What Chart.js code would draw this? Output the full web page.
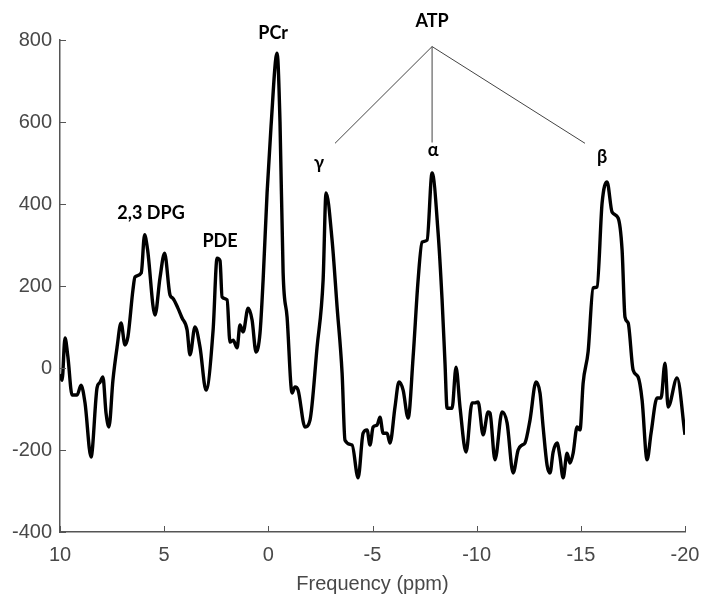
<!DOCTYPE html>
<html>
<head>
<meta charset="utf-8">
<script src="https://cdn.jsdelivr.net/npm/chart.js@4.4.1/dist/chart.umd.min.js"></script>
<style>
  html, body { margin: 0; padding: 0; background: #fff; }
  #wrap { width: 702px; height: 594px; }
</style>
</head>
<body>
<div id="wrap"><canvas id="spectrum" width="702" height="594"></canvas></div>
<script>
// 31P spectrum, chemical shift (ppm) vs signal
const ppm = [
  10.00, 9.90, 9.76, 9.62, 9.42, 9.18, 8.99, 8.80, 8.51, 8.22, 8.08, 7.94, 7.79, 7.65, 7.46, 7.26,
  7.07, 6.88, 6.74, 6.50, 6.40, 6.10, 5.94, 5.80, 5.44, 5.20, 4.98, 4.72, 4.58, 4.34, 4.14, 3.90,
  3.76, 3.52, 3.28, 2.99, 2.65, 2.46, 2.32, 2.22, 1.98, 1.84, 1.69, 1.50, 1.36, 1.21, 0.97, 0.78,
  0.59, 0.40, 0.25, 0.06, -0.13, -0.42, -0.56, -0.71, -0.90, -1.14, -1.28, -1.43, -1.76, -2.00,
  -2.34, -2.63, -2.77, -3.06, -3.30, -3.54, -3.68, -4.02, -4.31, -4.55, -4.74, -4.88, -5.03, -5.22,
  -5.36, -5.51, -5.70, -5.84, -6.08, -6.27, -6.47, -6.71, -6.95, -7.19, -7.38, -7.62, -7.86, -8.15,
  -8.34, -8.48, -8.58, -8.82, -9.01, -9.20, -9.49, -9.78, -9.92, -10.07, -10.31, -10.55, -10.64,
  -10.88, -11.22, -11.46, -11.75, -11.99, -12.18, -12.32, -12.56, -12.85, -13.04, -13.19, -13.38,
  -13.52, -13.67, -13.86, -14.00, -14.15, -14.34, -14.48, -14.63, -14.82, -14.96, -15.11, -15.35,
  -15.59, -15.78, -16.02, -16.26, -16.50, -16.79, -16.98, -17.12, -17.27, -17.51, -17.75, -17.94,
  -18.18, -18.37, -18.66, -18.85, -19.04, -19.19, -19.62, -20.00
];
const signal = [
  -15, -30, 73, 27, -66, -66, -42, -85, -217, -48, -35, -22, -110, -144, -30, 51,
  110, 56, 76, 190, 222, 232, 325, 290, 129, 220, 280, 178, 170, 146, 122, 93,
  32, 100, 51, -54, 93, 268, 262, 173, 166, 63, 68, 49, 105, 88, 146, 117,
  39, 85, 215, 427, 590, 768, 600, 232, 124, -61, -46, -54, -144, -127,
  51, 215, 427, 312, 149, -12, -176, -188, -268, -159, -151, -188, -144, -139,
  -120, -159, -159, -183, -95, -34, -54, -122, 27, 215, 307, 312, 476, 329,
  166, 12, -98, -98, 2, -95, -205, -85, -85, -83, -163, -107, -110,
  -224, -107, -134, -256, -200, -188, -183, -127, -34, -61, -144, -237,
  -256, -205, -183, -217, -268, -208, -232, -208, -144, -151, -37, 40,
  195, 198, 402, 454, 380, 366, 288, 124, 110, -5, -22, -78,
  -224, -159, -73, -73, 12, -95, -24, -163
];
const xTicks = [10, 5, 0, -5, -10, -15, -20];
const yTicks = [-400, -200, 0, 200, 400, 600, 800];

// peak labels (text, ppm, signal)
const peakNames = ['2,3 DPG', 'PDE', 'PCr', 'γ', 'α', 'β', 'ATP'];
const peakX = [5.63, 2.32, -0.23, -2.43, -7.91, -16.02, -7.86];
const peakY = [377, 309, 816, 499, 531, 514, 845];
// ATP bracket: apex then the three leg ends
const atpApex = [-7.86, 784];
const atpLegsX = [-3.20, -7.86, -15.20];
const atpLegsY = [548, 550, 548];

const axisColor = '#555';
const textColor = '#484848';
const tickFont = { family: "'Liberation Sans', Arial, sans-serif", size: 20 };

const inwardTicks = {
  id: 'inwardTicks',
  afterDraw(chart) {
    const { ctx, chartArea, scales: { x, y } } = chart;
    ctx.save();
    ctx.strokeStyle = axisColor;
    ctx.lineWidth = 1;
    ctx.beginPath();
    xTicks.forEach(v => {
      const px = Math.round(x.getPixelForValue(v)) + 0.5;
      ctx.moveTo(px, chartArea.bottom);
      ctx.lineTo(px, chartArea.bottom - 6);
    });
    yTicks.forEach(v => {
      const py = Math.round(y.getPixelForValue(v)) + 0.5;
      ctx.moveTo(chartArea.left, py);
      ctx.lineTo(chartArea.left + 6, py);
    });
    ctx.stroke();
    ctx.restore();
  }
};

const peakLabels = {
  id: 'peakLabels',
  afterDraw(chart) {
    const { ctx, scales: { x, y } } = chart;
    ctx.save();
    ctx.strokeStyle = '#444';
    ctx.lineWidth = 1;
    ctx.beginPath();
    const ax = x.getPixelForValue(atpApex[0]);
    const ay = y.getPixelForValue(atpApex[1]);
    atpLegsX.forEach((v, i) => {
      ctx.moveTo(ax, ay);
      ctx.lineTo(x.getPixelForValue(v), y.getPixelForValue(atpLegsY[i]));
    });
    ctx.stroke();
    ctx.fillStyle = '#000';
    ctx.font = "bold 18px Lato, 'Open Sans', sans-serif";
    ctx.textAlign = 'center';
    ctx.textBaseline = 'middle';
    peakNames.forEach((t, i) => {
      ctx.fillText(t, x.getPixelForValue(peakX[i]), y.getPixelForValue(peakY[i]));
    });
    ctx.restore();
  }
};

new Chart(document.getElementById('spectrum'), {
  type: 'line',
  data: {
    datasets: [{
      data: ppm.map((v, i) => ({ x: v, y: signal[i] })),
      borderColor: '#000',
      borderWidth: 3.4,
      pointRadius: 0,
      cubicInterpolationMode: 'monotone',
      fill: false,
    }]
  },
  options: {
    responsive: false,
    animation: false,
    devicePixelRatio: 1,
    layout: { padding: { top: 40, right: 17, left: 0, bottom: 0 } },
    plugins: {
      legend: { display: false },
      tooltip: { enabled: false },
    },
    scales: {
      x: {
        type: 'linear',
        reverse: true,
        min: -20,
        max: 10,
        afterBuildTicks: s => { s.ticks = xTicks.map(v => ({ value: v })); },
        afterFit: s => { s.height = 62; s.paddingLeft = 0; s.paddingRight = 0; },
        grid: { drawOnChartArea: false, drawTicks: false },
        border: { display: true, color: axisColor, width: 1.5 },
        ticks: { color: textColor, font: tickFont, padding: 11, maxRotation: 0 },
        title: { display: true, text: 'Frequency (ppm)', color: textColor, font: tickFont, padding: { top: 0, bottom: -2 } },
      },
      y: {
        min: -400,
        max: 800,
        afterBuildTicks: s => { s.ticks = yTicks.map(v => ({ value: v })); },
        afterFit: s => { s.width = 60; s.paddingTop = 0; s.paddingBottom = 0; },
        grid: { drawOnChartArea: false, drawTicks: false },
        border: { display: true, color: axisColor, width: 1.5 },
        ticks: { color: textColor, font: tickFont, padding: 8 },
      }
    }
  },
  plugins: [inwardTicks, peakLabels]
});
</script>
</body>
</html>
